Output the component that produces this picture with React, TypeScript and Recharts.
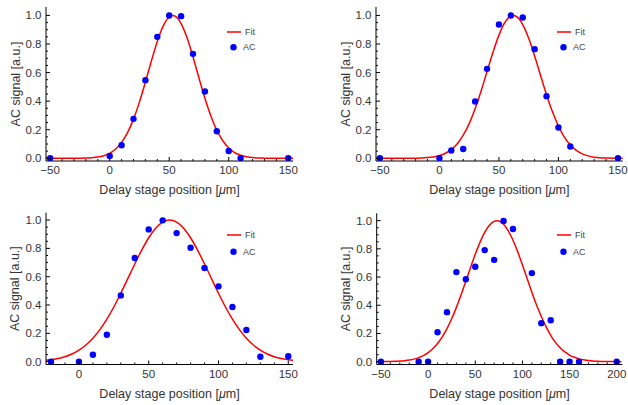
import React from "react";
import { ComposedChart, Line, Scatter, XAxis, YAxis, Legend } from "recharts";

const FONT = '"Liberation Sans", Arial, Helvetica, sans-serif';

// ---- panel 1 (top left)
const acX1 = [-50, 0, 10, 20, 30, 40, 50, 60, 70, 80, 90, 100, 110, 150];
const acY1 = [0, 0.016, 0.091, 0.276, 0.547, 0.85, 1.0, 0.995, 0.731, 0.467, 0.189, 0.051, 0, 0];
const fitX1 = [-55, -50, -45, -40, -35, -30, -25, -20, -15, -10, -5, 0, 5, 10, 15, 20, 25, 30, 35, 40, 45, 50, 53, 55, 60, 65, 70, 75, 80, 85, 90, 95, 100, 105, 110, 115, 120, 125, 130, 135, 140, 145, 150, 155];
const fitY1 = [0, 0, 0, 0, 0.0001, 0.0002, 0.0006, 0.0018, 0.0041, 0.0089, 0.018, 0.035, 0.065, 0.111, 0.179, 0.274, 0.393, 0.533, 0.68, 0.818, 0.927, 0.989, 1.0, 0.995, 0.943, 0.843, 0.709, 0.562, 0.42, 0.296, 0.196, 0.123, 0.072, 0.04, 0.021, 0.01, 0.005, 0.002, 0.001, 0, 0, 0, 0, 0];

// ---- panel 2 (top right)
const acX2 = [-50, 0, 10, 20, 30, 40, 50, 60, 70, 80, 90, 100, 110, 150];
const acY2 = [0, 0, 0.054, 0.065, 0.397, 0.626, 0.937, 1.0, 0.986, 0.764, 0.435, 0.215, 0.082, 0];
const fitX2 = [-55, -50, -45, -40, -35, -30, -25, -20, -15, -10, -5, 0, 5, 10, 15, 20, 25, 30, 35, 40, 45, 50, 55, 60, 62, 65, 70, 75, 80, 85, 90, 95, 100, 105, 110, 115, 120, 125, 130, 135, 140, 145, 150, 155];
const fitY2 = [0, 0, 0, 0, 0.0001, 0.0002, 0.0005, 0.001, 0.0022, 0.0047, 0.0097, 0.019, 0.035, 0.061, 0.102, 0.162, 0.243, 0.347, 0.471, 0.607, 0.742, 0.862, 0.951, 0.996, 1.0, 0.991, 0.936, 0.84, 0.716, 0.579, 0.445, 0.325, 0.225, 0.148, 0.093, 0.055, 0.031, 0.017, 0.008, 0.004, 0.002, 0.001, 0, 0];

// ---- panel 3 (bottom left)
const acX3 = [-20, 0, 10, 20, 30, 40, 50, 60, 70, 80, 90, 100, 110, 120, 130, 150];
const acY3 = [0, 0, 0.049, 0.19, 0.468, 0.732, 0.934, 0.998, 0.908, 0.805, 0.661, 0.532, 0.386, 0.224, 0.035, 0.038];
const fitX3 = [-25, -20, -15, -10, -5, 0, 5, 10, 15, 20, 25, 30, 35, 40, 45, 50, 55, 60, 65, 70, 75, 80, 85, 90, 95, 100, 105, 110, 115, 120, 125, 130, 135, 140, 145, 150, 155];
const fitY3 = [0.008, 0.014, 0.022, 0.035, 0.054, 0.081, 0.118, 0.166, 0.226, 0.3, 0.386, 0.483, 0.586, 0.69, 0.788, 0.875, 0.942, 0.985, 1.0, 0.985, 0.942, 0.875, 0.788, 0.69, 0.586, 0.483, 0.386, 0.3, 0.226, 0.166, 0.118, 0.081, 0.054, 0.035, 0.022, 0.014, 0.008];

// ---- panel 4 (bottom right)
const acX4 = [-50, -10, 0, 10, 20, 30, 40, 50, 60, 70, 80, 90, 110, 120, 130, 140, 150, 160, 200];
const acY4 = [0, 0, 0, 0.209, 0.351, 0.635, 0.584, 0.673, 0.791, 0.722, 0.998, 0.941, 0.628, 0.273, 0.294, 0, 0, 0, 0];
const fitX4 = [-55, -50, -45, -40, -35, -30, -25, -20, -15, -10, -5, 0, 5, 10, 15, 20, 25, 30, 35, 40, 45, 50, 55, 60, 65, 70, 73, 75, 80, 85, 90, 95, 100, 105, 110, 115, 120, 125, 130, 135, 140, 145, 150, 155, 160, 165, 170, 175, 180, 185, 190, 195, 200, 205];
const fitY4 = [0.0002, 0.0004, 0.0008, 0.0014, 0.0024, 0.0042, 0.007, 0.0115, 0.018, 0.029, 0.043, 0.064, 0.092, 0.129, 0.176, 0.235, 0.304, 0.385, 0.474, 0.57, 0.667, 0.761, 0.846, 0.916, 0.967, 0.995, 1.0, 0.998, 0.975, 0.928, 0.861, 0.779, 0.686, 0.589, 0.493, 0.402, 0.32, 0.248, 0.187, 0.137, 0.099, 0.069, 0.047, 0.031, 0.02, 0.013, 0.008, 0.005, 0.003, 0.0015, 0.0009, 0.0005, 0.0002, 0.0001];

// ---- ticks
const xTicksA = [-50, -40, -30, -20, -10, 0, 10, 20, 30, 40, 50, 60, 70, 80, 90, 100, 110, 120, 130, 140, 150];
const xMajorA = [-50, 0, 50, 100, 150];
const xTicksB = [-20, -10, 0, 10, 20, 30, 40, 50, 60, 70, 80, 90, 100, 110, 120, 130, 140, 150];
const xMajorB = [0, 50, 100, 150];
const xTicksC = [-50, -40, -30, -20, -10, 0, 10, 20, 30, 40, 50, 60, 70, 80, 90, 100, 110, 120, 130, 140, 150, 160, 170, 180, 190, 200];
const xMajorC = [-50, 0, 50, 100, 150, 200];
const yTicks = [0, 0.05, 0.1, 0.15, 0.2, 0.25, 0.3, 0.35, 0.4, 0.45, 0.5, 0.55, 0.6, 0.65, 0.7, 0.75, 0.8, 0.85, 0.9, 0.95, 1.0];
const yMajor = [0, 0.2, 0.4, 0.6, 0.8, 1.0];

const zip = (xs: number[], ys: number[]) => xs.map((x, i) => ({ x, y: ys[i] }));
const fmtX = (v: number) => (v < 0 ? "\u2212" + Math.abs(v) : String(v));
const fmtY = (v: number) => v.toFixed(1);

const MAJOR = 4;
const MINOR = 2;

const bottomTick = (majors: number[]) => (p: any) => {
  const v = p.payload.value;
  const m = majors.includes(v);
  return (
    <g>
      <line x1={p.x} x2={p.x} y1={p.y} y2={p.y - (m ? MAJOR : MINOR)} stroke="#000" />
      {m && (
        <text x={p.x} y={p.y + 13} textAnchor="middle" fontSize={11.5} fill="#333" fontFamily={FONT}>
          {fmtX(v)}
        </text>
      )}
    </g>
  );
};
const topTick = (majors: number[]) => (p: any) => {
  const m = majors.includes(p.payload.value);
  return <line x1={p.x} x2={p.x} y1={p.y} y2={p.y + (m ? MAJOR : MINOR)} stroke="#000" />;
};
const leftTick = (p: any) => {
  const v = p.payload.value;
  const m = yMajor.includes(v);
  return (
    <g>
      <line x1={p.x} x2={p.x + (m ? MAJOR : MINOR)} y1={p.y} y2={p.y} stroke="#000" />
      {m && (
        <text x={p.x - 4.5} y={p.y + 4} textAnchor="end" fontSize={11.5} fill="#333" fontFamily={FONT}>
          {fmtY(v)}
        </text>
      )}
    </g>
  );
};
const rightTick = (p: any) => {
  const m = yMajor.includes(p.payload.value);
  return <line x1={p.x} x2={p.x - (m ? MAJOR : MINOR)} y1={p.y} y2={p.y} stroke="#000" />;
};

type PanelProps = {
  left: number;
  top: number;
  h: number;
  plot: { l: number; r: number; t: number; b: number };
  xDomain: [number, number];
  yDomain: [number, number];
  xTicks: number[];
  xMajor: number[];
  ac: { x: number; y: number }[];
  fit: { x: number; y: number }[];
  legend: { x: number; y: number; gap: number };
};

const W = 314;

function Panel({ left, top, h, plot, xDomain, yDomain, xTicks, xMajor, ac, fit, legend }: PanelProps) {
  const legendContent = () => (
    <svg width={50} height={34} style={{ display: "block", overflow: "visible" }}>
      <line x1={0} x2={14} y1={4} y2={4} stroke="#ff0000" strokeWidth={1.5} />
      <text x={18} y={7} fontSize={9} fill="#444" fontFamily={FONT}>Fit</text>
      <circle cx={6.5} cy={4 + legend.gap} r={3.2} fill="#0000ff" />
      <text x={16} y={7 + legend.gap} fontSize={9} fill="#444" fontFamily={FONT}>AC</text>
    </svg>
  );
  return (
    <div style={{ position: "absolute", left, top, width: W, height: h }}>
      <ComposedChart width={W} height={h} margin={{ top: plot.t, right: W - plot.r, bottom: 0, left: 0 }}>
        <XAxis
          dataKey="x"
          type="number"
          domain={xDomain}
          allowDataOverflow
          ticks={xTicks}
          interval={0}
          height={h - plot.b}
          tickSize={0}
          tickMargin={0}
          tickLine={false}
          axisLine={{ stroke: "#000" }}
          tick={bottomTick(xMajor)}
          label={(p: any) => {
            const vb = p.viewBox;
            return (
              <text x={vb.x + vb.width / 2} y={vb.y + 33} textAnchor="middle" fontSize={12.5} fill="#333" fontFamily={FONT}>
                Delay stage position [<tspan fontStyle="italic">μ</tspan>m]
              </text>
            );
          }}
        />
        <XAxis
          xAxisId="t"
          orientation="top"
          type="number"
          domain={xDomain}
          allowDataOverflow
          ticks={xTicks}
          interval={0}
          height={0}
          tickSize={0}
          tickMargin={0}
          tickLine={false}
          axisLine={{ stroke: "#000" }}
          tick={topTick(xMajor)}
        />
        <YAxis
          type="number"
          domain={yDomain}
          allowDataOverflow
          ticks={yTicks}
          interval={0}
          width={plot.l}
          tickSize={0}
          tickMargin={0}
          tickLine={false}
          axisLine={{ stroke: "#000" }}
          tick={leftTick}
          label={(p: any) => {
            const vb = p.viewBox;
            const cx = vb.x + vb.width - 30.5;
            const cy = vb.y + vb.height / 2;
            return (
              <text
                x={cx}
                y={cy}
                transform={`rotate(-90, ${cx}, ${cy})`}
                textAnchor="middle"
                dominantBaseline="central"
                fontSize={12.5}
                fill="#333"
                fontFamily={FONT}
              >
                AC signal [a.u.]
              </text>
            );
          }}
        />
        <YAxis
          yAxisId="r"
          orientation="right"
          type="number"
          domain={yDomain}
          allowDataOverflow
          ticks={yTicks}
          interval={0}
          width={0}
          tickSize={0}
          tickMargin={0}
          tickLine={false}
          axisLine={{ stroke: "#000" }}
          tick={rightTick}
        />
        <Line
          data={fit}
          dataKey="y"
          type="monotone"
          stroke="#ff0000"
          strokeWidth={1.5}
          dot={false}
          activeDot={false}
          isAnimationActive={false}
        />
        <Scatter
          data={ac}
          dataKey="y"
          isAnimationActive={false}
          shape={(p: any) => <circle cx={p.cx} cy={p.cy} r={3.2} fill="#0000ff" />}
        />
        <Legend
          layout="horizontal"
          verticalAlign="middle"
          align="center"
          content={legendContent}
          wrapperStyle={{ position: "absolute", left: legend.x, top: legend.y, width: 50, height: 34 }}
        />
      </ComposedChart>
    </div>
  );
}

export default function App() {
  return (
    <div style={{ position: "absolute", left: 0, top: 0, width: 628, height: 405, background: "#fff" }}>
      <Panel
        left={0}
        top={0}
        h={200}
        plot={{ l: 46, r: 293, t: 7, b: 161 }}
        xDomain={[-53.5, 154]}
        yDomain={[-0.019, 1.059]}
        xTicks={xTicksA}
        xMajor={xMajorA}
        ac={zip(acX1, acY1)}
        fit={zip(fitX1, fitY1)}
        legend={{ x: 227, y: 28, gap: 15.3 }}
      />
      <Panel
        left={314}
        top={0}
        h={200}
        plot={{ l: 62, r: 308.7, t: 7, b: 161 }}
        xDomain={[-53.3, 154]}
        yDomain={[-0.019, 1.059]}
        xTicks={xTicksA}
        xMajor={xMajorA}
        ac={zip(acX2, acY2)}
        fit={zip(fitX2, fitY2)}
        legend={{ x: 243, y: 28, gap: 15.3 }}
      />
      <Panel
        left={0}
        top={200}
        h={205}
        plot={{ l: 46, r: 293, t: 12.7, b: 164.5 }}
        xDomain={[-23.6, 153.4]}
        yDomain={[-0.02, 1.052]}
        xTicks={xTicksB}
        xMajor={xMajorB}
        ac={zip(acX3, acY3)}
        fit={zip(fitX3, fitY3)}
        legend={{ x: 226.7, y: 31, gap: 16.7 }}
      />
      <Panel
        left={314}
        top={200}
        h={205}
        plot={{ l: 62.7, r: 308.3, t: 13.3, b: 164.5 }}
        xDomain={[-54.5, 205.9]}
        yDomain={[-0.02, 1.052]}
        xTicks={xTicksC}
        xMajor={xMajorC}
        ac={zip(acX4, acY4)}
        fit={zip(fitX4, fitY4)}
        legend={{ x: 242.7, y: 31, gap: 16.7 }}
      />
    </div>
  );
}
